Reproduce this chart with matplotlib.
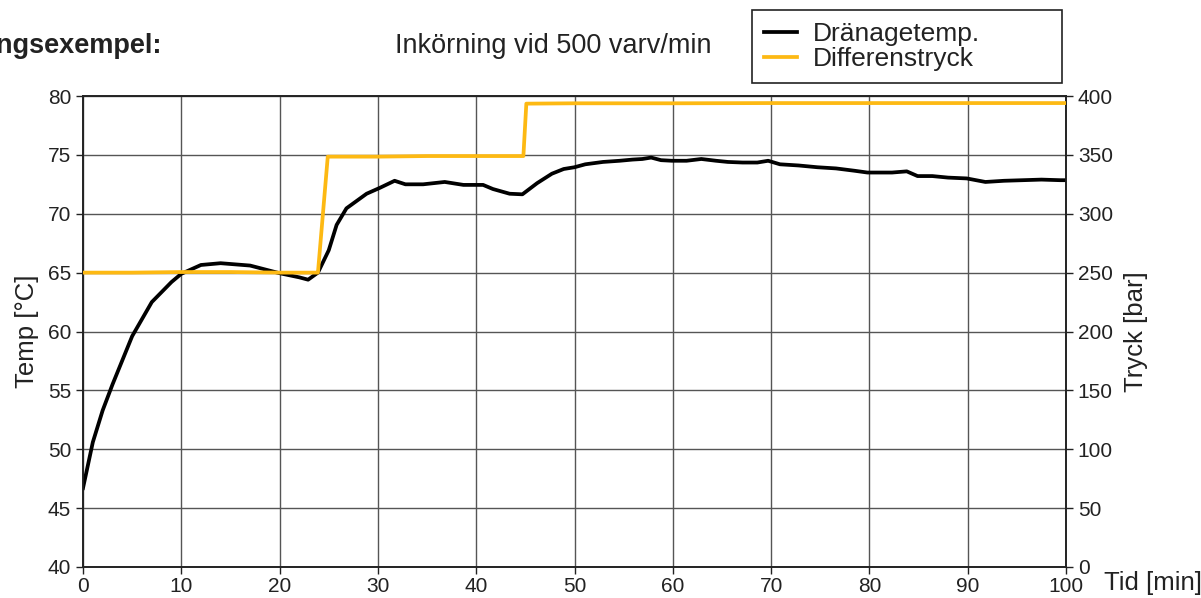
import matplotlib
matplotlib.use("Agg")
import matplotlib.pyplot as plt

plt.rcParams['font.family'] = ['Liberation Sans', 'DejaVu Sans']

# Temperature series (Dränagetemp.)
temp_t = [0, 1, 2, 3, 5, 7, 9, 10, 12, 14, 17, 20, 22, 22.9, 23.9, 25.0, 25.8, 26.8,
          28.85, 30.2, 31.7, 32.8, 34.6, 36.8, 38.7, 40.7, 41.7, 43.4, 44.7, 46.2,
          47.7, 48.9, 50.0, 51.1, 52.9, 54.6, 55.9, 56.9, 57.8, 58.8, 59.9, 61.4,
          62.9, 64.4, 65.6, 67.1, 68.6, 69.7, 70.9, 72.8, 74.7, 76.6, 78.5, 79.8,
          82.3, 83.8, 84.9, 86.4, 88.0, 89.9, 91.8, 93.7, 95.6, 97.5, 99.4, 100]
temp_v = [46.7, 50.6, 53.3, 55.5, 59.6, 62.5, 64.2, 64.9, 65.65, 65.8, 65.6, 64.95,
          64.6, 64.4, 65.0, 66.9, 69.05, 70.46, 71.7, 72.2, 72.8, 72.5, 72.5, 72.7,
          72.45, 72.45, 72.1, 71.7, 71.65, 72.6, 73.4, 73.8, 73.95, 74.2, 74.4, 74.5,
          74.6, 74.65, 74.77, 74.55, 74.5, 74.5, 74.65, 74.5, 74.4, 74.35, 74.35,
          74.5, 74.2, 74.1, 73.95, 73.85, 73.65, 73.5, 73.5, 73.6, 73.2, 73.2, 73.07,
          73.0, 72.7, 72.8, 72.85, 72.9, 72.85, 72.85]

# Pressure series (Differenstryck)
press_t = [0, 5, 10, 15, 20, 23.9, 24.9, 30, 35, 40, 44.8, 45.1, 50, 60, 70, 80, 90, 100]
press_v = [250, 250, 250.5, 250.5, 250, 250, 348.5, 348.5, 349, 349, 349, 393.5,
           393.8, 393.8, 394, 394, 394, 394]

x_ticks = list(range(0, 101, 10))
temp_ticks = list(range(40, 81, 5))
press_ticks = list(range(0, 401, 50))

BLACK = '#000000'
YELLOW = '#FDB913'
TXT = '#222222'
FS = 15
LFS = 18.5

fig = plt.figure(figsize=(12.01, 5.98), dpi=100)
ax = fig.add_axes([83/1201, 1 - 567/598, (1066 - 83)/1201, (567 - 96)/598])
ax2 = ax.twinx()

l1, = ax.plot(temp_t, temp_v, color=BLACK, lw=2.7, zorder=5, label='Dränagetemp.')
l2, = ax2.plot(press_t, press_v, color=YELLOW, lw=2.7, zorder=4, label='Differenstryck')

ax.set_xlim(0, 100)
ax.set_ylim(40, 80)
ax2.set_ylim(0, 400)
ax.set_xticks(x_ticks)
ax.set_yticks(temp_ticks)
ax2.set_yticks(press_ticks)

ax.grid(True, color='#555555', lw=1.0)
ax.set_axisbelow(True)

for a in (ax, ax2):
    a.tick_params(direction='out', length=5, width=1, labelsize=FS, colors=TXT)
    for s in a.spines.values():
        s.set_linewidth(1.2)
        s.set_color(TXT)
ax.tick_params(axis='x', pad=2)

ax.set_ylabel('Temp [°C]', fontsize=LFS, labelpad=6, color=TXT)
ax2.set_ylabel('Tryck [bar]', fontsize=LFS, labelpad=8, color=TXT)
fig.text(1104/1201, 1 - 583/598, 'Tid [min]', fontsize=LFS, ha='left', va='center', color=TXT)

fig.text(162/1201, 1 - 46/598, 'Körningsexempel:', fontsize=19.5, fontweight='bold',
         ha='right', va='center', color=TXT)
fig.text(553/1201, 1 - 46/598, 'Inkörning vid 500 varv/min', fontsize=19.5,
         ha='center', va='center', color=TXT)

leg = fig.legend(handles=[l1, l2], loc='upper left',
                 bbox_to_anchor=(752/1201, 1 - 10/598, 310/1201, 0.0), mode='expand',
                 borderaxespad=0, fontsize=19, handlelength=1.25, handletextpad=0.6,
                 labelspacing=0.05, borderpad=0.45, fancybox=False, framealpha=1,
                 edgecolor=TXT)
leg.get_frame().set_linewidth(1.2)
for t in leg.get_texts():
    t.set_color(TXT)

fig.savefig('out.png', dpi=100)
